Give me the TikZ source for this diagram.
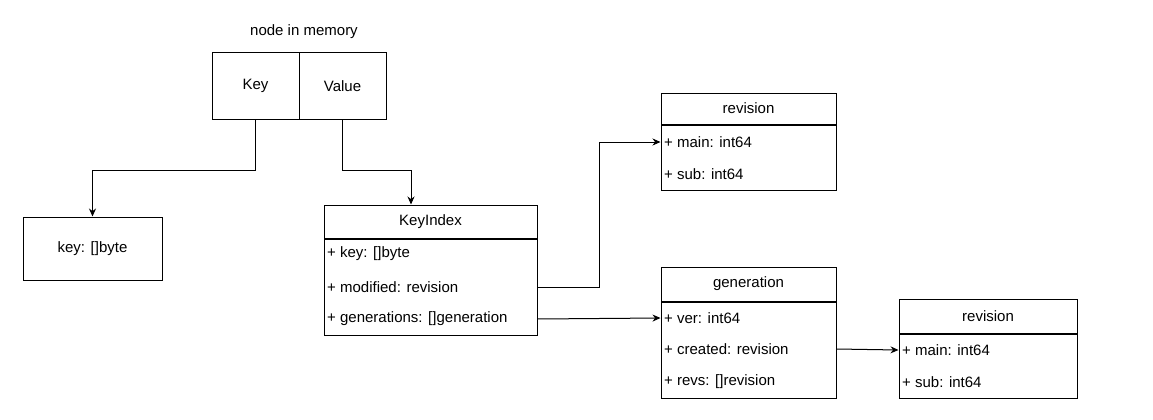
\documentclass[tikz,border=0pt]{standalone}
\usepackage{fontspec}
\setmainfont{Liberation Sans}
\usepackage{tikz}
\usetikzlibrary{arrows.meta}

\begin{document}
\begin{tikzpicture}[x=1pt,y=-1pt,
    box_node/.style={draw,line width=1pt,inner sep=0pt,font=\fontsize{15}{18}\selectfont},
    row_node/.style={anchor=west,inner sep=0pt,font=\fontsize{15}{18}\selectfont}]

    \useasboundingbox (0,0) rectangle (1153,420);

    % node in memory
    \node[row_node,anchor=center] (title) at (304,32) {node in memory};
    \node[box_node,minimum width=87,minimum height=66] (key) at (255.5,86) {Key};
    \node[box_node,minimum width=87,minimum height=66] (value) at (342.5,86) {Value};

    \node[box_node,minimum width=139,minimum height=63] (keybytes) at (92.5,248.5) {key: []byte};

    % KeyIndex
    \node[box_node,minimum width=213,minimum height=33] (ki_head) at (430.5,221.5) {KeyIndex};
    \node[box_node,minimum width=213,minimum height=96,anchor=north] (ki_body) at (ki_head.south) {};
    \node[row_node] (ki_key) at (327,254) {+ key: []byte};
    \node[row_node] (ki_mod) at (327,287) {+ modified: revision};
    \node[row_node] (ki_gen) at (327,319) {+ generations: []generation};

    % revision (top)
    \node[box_node,minimum width=175,minimum height=31] (rv1_head) at (748.5,108.5) {revision};
    \node[box_node,minimum width=175,minimum height=65,anchor=north] (rv1_body) at (rv1_head.south) {};
    \node[row_node] (rv1_main) at (664,142) {+ main: int64};
    \node[row_node] (rv1_sub) at (664,174) {+ sub: int64};

    % generation
    \node[box_node,minimum width=175,minimum height=34] (gen_head) at (748.5,284) {generation};
    \node[box_node,minimum width=175,minimum height=96,anchor=north] (gen_body) at (gen_head.south) {};
    \node[row_node] (gen_ver) at (664,318) {+ ver: int64};
    \node[row_node] (gen_created) at (664,349) {+ created: revision};
    \node[row_node] (gen_revs) at (664,382) {+ revs: []revision};

    % revision (bottom)
    \node[box_node,minimum width=178,minimum height=34] (rv2_head) at (988,316) {revision};
    \node[box_node,minimum width=178,minimum height=64,anchor=north] (rv2_body) at (rv2_head.south) {};
    \node[row_node] (rv2_main) at (902,350) {+ main: int64};
    \node[row_node] (rv2_sub) at (902,382) {+ sub: int64};

    \begin{scope}[every path/.style={-{Stealth[length=8pt,width=7pt]},line width=1pt}]
    \draw (key.south) -- ++(0,51) -| (keybytes.north);
    \draw (value.south) -- ++(0,51) -| (ki_head.north -| 411,0);
    \draw (ki_body.east |- ki_mod) -- ++(62,0) |- (rv1_body.west |- rv1_main);
    \draw (ki_body.east |- ki_gen) -- (gen_body.west |- gen_ver);
    \draw (gen_body.east |- gen_created) -- (rv2_body.west |- rv2_main);
    \end{scope}
\end{tikzpicture}
\end{document}
